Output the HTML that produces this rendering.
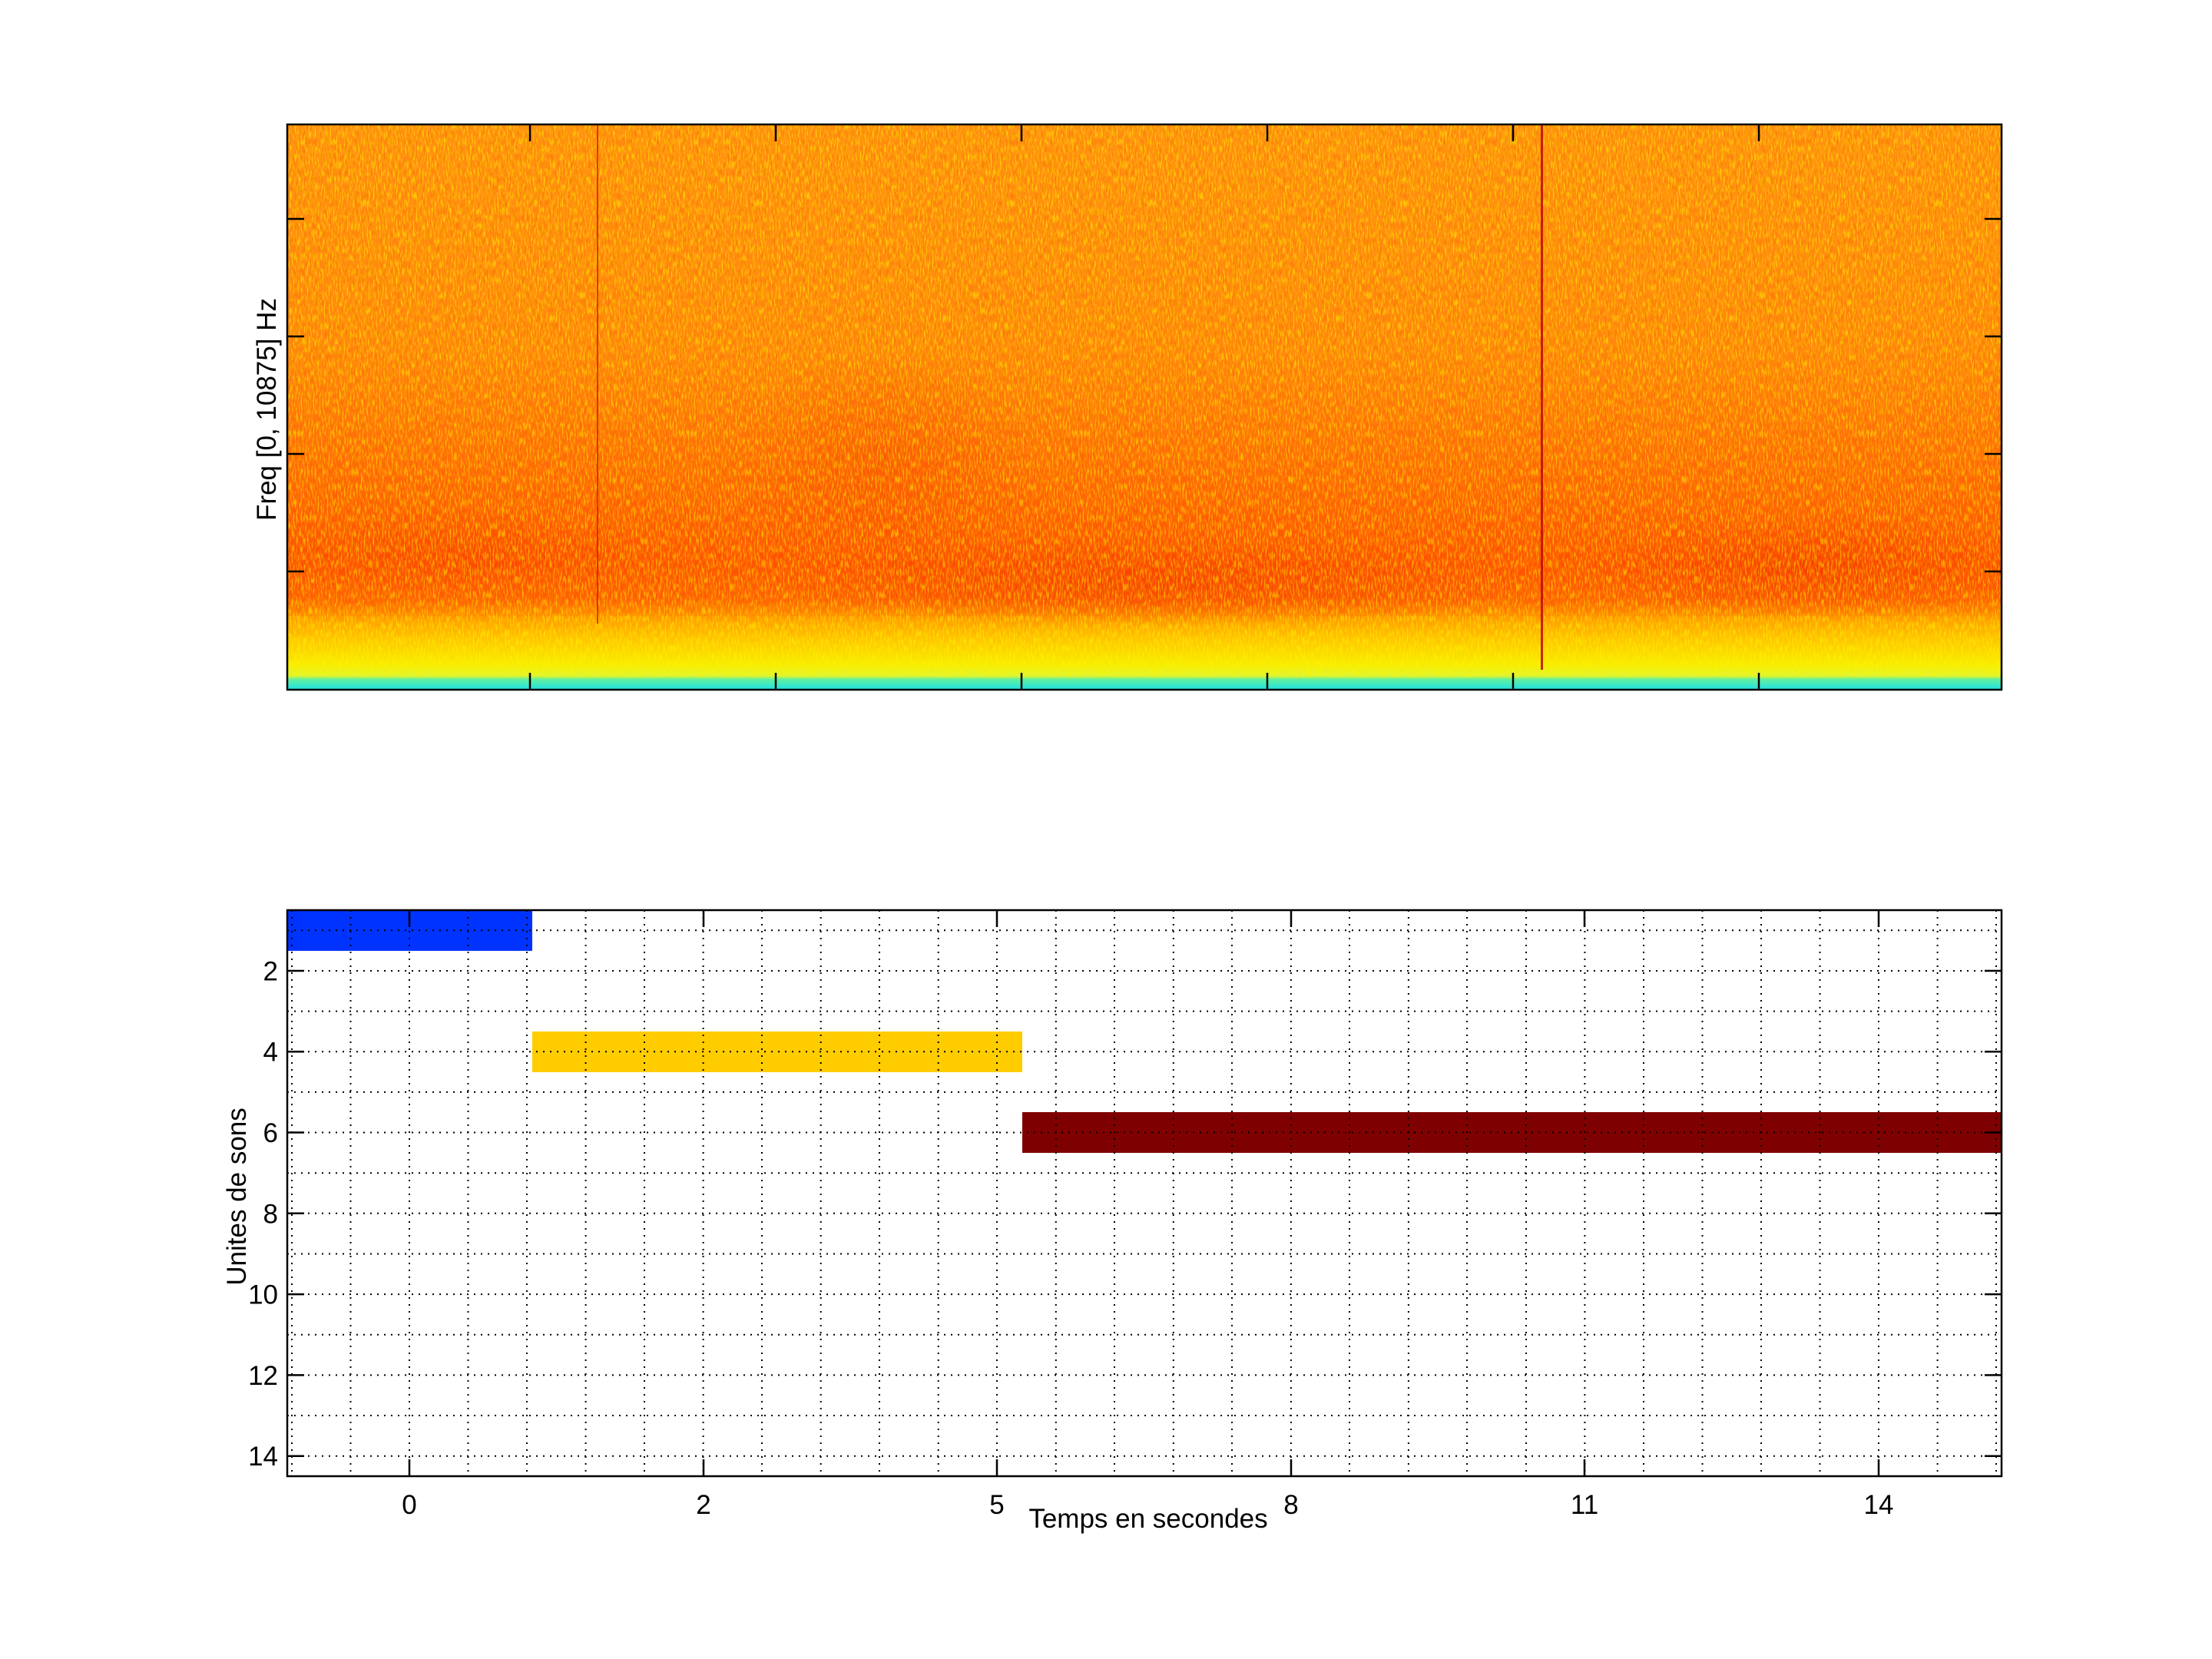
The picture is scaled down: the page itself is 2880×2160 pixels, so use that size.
<!DOCTYPE html>
<html><head><meta charset="utf-8"><style>
html,body{margin:0;padding:0;background:#fff;}
svg{display:block;}
text{font-family:"Liberation Sans",sans-serif;fill:#000;}
</style></head><body>
<svg width="2880" height="2160" viewBox="0 0 2880 2160" xmlns="http://www.w3.org/2000/svg">
<defs>
<linearGradient id="vg" x1="0" y1="0" x2="0" y2="1">
<stop offset="0" stop-color="#FF9212"/>
<stop offset="0.40" stop-color="#FF880E"/>
<stop offset="0.55" stop-color="#FF720A"/>
<stop offset="0.65" stop-color="#FF6406"/>
<stop offset="0.78" stop-color="#FF5002"/>
<stop offset="0.84" stop-color="#FF5E04"/>
<stop offset="0.875" stop-color="#FF9C00"/>
<stop offset="0.91" stop-color="#FFC400"/>
<stop offset="0.955" stop-color="#F8EC00"/>
<stop offset="0.975" stop-color="#E0F530"/>
<stop offset="0.982" stop-color="#60F0A0"/>
<stop offset="1" stop-color="#20E0E8"/>
</linearGradient>
<radialGradient id="rb" cx="0.5" cy="0.5" r="0.5">
<stop offset="0" stop-color="#F03000" stop-opacity="0.55"/>
<stop offset="1" stop-color="#F03000" stop-opacity="0"/>
</radialGradient>
<filter id="nz" x="0" y="0" width="100%" height="100%">
<feTurbulence type="fractalNoise" baseFrequency="0.5 0.1" numOctaves="2" seed="3"/>
<feColorMatrix type="matrix" values="0 0 0 0 1  0 0 0 0 0.9  0 0 0 0 0  0 0 0 -4 2.2"/>
</filter>
<filter id="nz2" x="0" y="0" width="100%" height="100%">
<feTurbulence type="fractalNoise" baseFrequency="0.5 0.1" numOctaves="2" seed="11"/>
<feColorMatrix type="matrix" values="0 0 0 0 0.95  0 0 0 0 0.15  0 0 0 0 0  0 0 0 -4 2.2"/>
</filter>
<clipPath id="cp"><rect x="374" y="162" width="2232" height="736"/></clipPath>
</defs>

<g clip-path="url(#cp)">
<rect x="374" y="162" width="2232" height="736" fill="url(#vg)"/>
<ellipse cx="1500" cy="760" rx="500" ry="60" fill="url(#rb)"/>
<ellipse cx="2350" cy="740" rx="300" ry="70" fill="url(#rb)"/>
<ellipse cx="1150" cy="600" rx="200" ry="150" fill="url(#rb)" opacity="0.5"/>
<ellipse cx="600" cy="720" rx="250" ry="60" fill="url(#rb)" opacity="0.6"/>
<rect x="374" y="162" width="2232" height="720" filter="url(#nz)" opacity="0.55"/>
<rect x="374" y="162" width="2232" height="640" filter="url(#nz2)" opacity="0.45"/>
<rect x="777" y="162" width="2" height="650" fill="#D82000" opacity="0.8"/>
<rect x="2006" y="162" width="3" height="710" fill="#C00800" opacity="0.85"/>
</g>
<rect x="374" y="162" width="2232" height="736" fill="none" stroke="#000" stroke-width="2.5"/>
<g stroke="#000" stroke-width="2.5">
<path d="M374 285h22M374 438h22M374 591h22M374 744h22M2606 285h-22M2606 438h-22M2606 591h-22M2606 744h-22"/>
<path d="M690 162v22M1010 162v22M1330 162v22M1650 162v22M1970 162v22M2290 162v22M690 898v-22M1010 898v-22M1330 898v-22M1650 898v-22M1970 898v-22M2290 898v-22"/>
</g>
<text x="0" y="0" font-size="35" text-anchor="middle" transform="translate(359,533) rotate(-90)">Freq [0, 10875] Hz</text>

<rect x="374" y="1185" width="319" height="53" fill="#0033FF"/>
<rect x="693" y="1343" width="638" height="53" fill="#FFCC00"/>
<rect x="1331" y="1448" width="1275" height="53" fill="#7F0000"/>

<g stroke="#000" stroke-width="2" stroke-dasharray="2,7" fill="none">
<path d="M380 1185V1922M456.5 1185V1922M533 1185V1922M609.5 1185V1922M686 1185V1922M762.6 1185V1922M839 1185V1922M915.6 1185V1922M992 1185V1922M1068.7 1185V1922M1145 1185V1922M1221.7 1185V1922M1298 1185V1922M1374.8 1185V1922M1451 1185V1922M1527.8 1185V1922M1604 1185V1922M1680.9 1185V1922M1757 1185V1922M1833.9 1185V1922M1910 1185V1922M1987 1185V1922M2063.4 1185V1922M2140 1185V1922M2216.5 1185V1922M2293 1185V1922M2369.5 1185V1922M2446 1185V1922M2522.6 1185V1922M2599 1185V1922"/>
<path d="M374 1211.3H2606M374 1264H2606M374 1316.6H2606M374 1369.2H2606M374 1421.9H2606M374 1474.5H2606M374 1527.2H2606M374 1579.8H2606M374 1632.5H2606M374 1685.1H2606M374 1737.7H2606M374 1790.4H2606M374 1843H2606M374 1895.7H2606"/>
</g>
<rect x="374" y="1185" width="2232" height="737" fill="none" stroke="#000" stroke-width="2.5"/>
<g stroke="#000" stroke-width="2.5">
<path d="M374 1264h22M374 1369.2h22M374 1474.5h22M374 1579.8h22M374 1685.1h22M374 1790.4h22M374 1895.7h22M2606 1264h-22M2606 1369.2h-22M2606 1474.5h-22M2606 1579.8h-22M2606 1685.1h-22M2606 1790.4h-22M2606 1895.7h-22"/>
<path d="M533 1185v22M916 1185v22M1298 1185v22M1681 1185v22M2063 1185v22M2446 1185v22M533 1922v-22M916 1922v-22M1298 1922v-22M1681 1922v-22M2063 1922v-22M2446 1922v-22"/>
</g>
<g font-size="35" text-anchor="end">
<text x="362" y="1276.5">2</text>
<text x="362" y="1381.7">4</text>
<text x="362" y="1487">6</text>
<text x="362" y="1592.3">8</text>
<text x="362" y="1697.6">10</text>
<text x="362" y="1802.9">12</text>
<text x="362" y="1908.2">14</text>
</g>
<g font-size="35" text-anchor="middle">
<text x="533" y="1971">0</text>
<text x="916" y="1971">2</text>
<text x="1298" y="1971">5</text>
<text x="1681" y="1971">8</text>
<text x="2063" y="1971">11</text>
<text x="2446" y="1971">14</text>
<text x="1495" y="1989">Temps en secondes</text>
</g>
<text x="0" y="0" font-size="35" text-anchor="middle" transform="translate(320,1558) rotate(-90)">Unites de sons</text>
</svg>
</body></html>
